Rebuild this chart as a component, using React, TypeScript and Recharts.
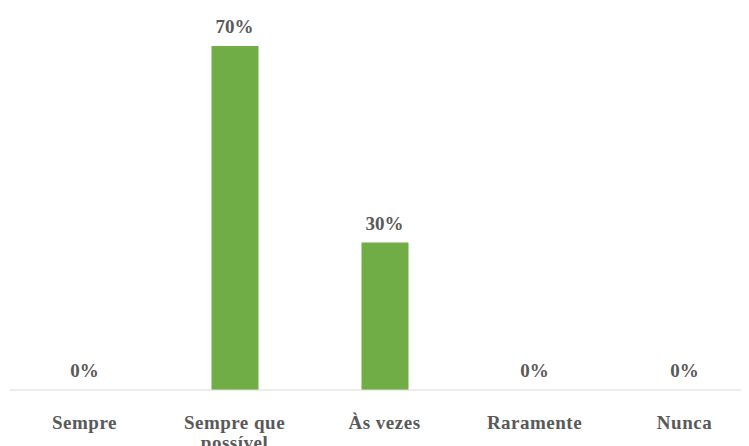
import { ComposedChart, Bar, Line, XAxis, YAxis } from "recharts";

const categories = ["Sempre", "Sempre que possível", "Às vezes", "Raramente", "Nunca"];
const values = [0, 70, 30, 0, 0];

const data = categories.map((name, i) => ({ name, value: values[i] }));

const TEXT = "#595959";
const FONT = "'Liberation Serif', 'Times New Roman', serif";

function CategoryTick(props: any) {
  const { x, y, payload } = props;
  const label: string = payload.value;
  const lines = label === "Sempre que possível" ? ["Sempre que", "possível"] : [label];
  return (
    <text x={x} y={y + 39} textAnchor="middle" fill={TEXT} fontFamily={FONT} fontSize={19} fontWeight="bold" letterSpacing={0.5}>
      {lines.map((l, i) => (
        <tspan key={i} x={x} dy={i === 0 ? 0 : 20}>
          {l}
        </tspan>
      ))}
    </text>
  );
}

// labels sit on the line points so the 0% values get one too
function ValueLabel(props: any) {
  const { x, y, value } = props;
  return (
    <text x={x} y={y - 13} textAnchor="middle" fill={TEXT} fontFamily={FONT} fontSize={19} fontWeight="bold">
      {value}%
    </text>
  );
}

export default function App() {
  return (
    <div style={{ width: 741, height: 438, overflow: "hidden", background: "#fff" }}>
      <ComposedChart width={760} height={438} data={data} margin={{ top: 38, right: 8.5, bottom: 26, left: 1.5 }}>
        <XAxis
          dataKey="name"
          height={30}
          axisLine={{ stroke: "#d9d9d9", strokeWidth: 1 }}
          tickLine={false}
          tickSize={0}
          tickMargin={0}
          interval={0}
          tick={<CategoryTick />}
        />
        <YAxis hide domain={[0, 70]} />
        <Bar dataKey="value" fill="#70AD47" barSize={47} isAnimationActive={false} />
        <Line dataKey="value" stroke="none" dot={false} activeDot={false} isAnimationActive={false} label={<ValueLabel />} />
      </ComposedChart>
    </div>
  );
}
